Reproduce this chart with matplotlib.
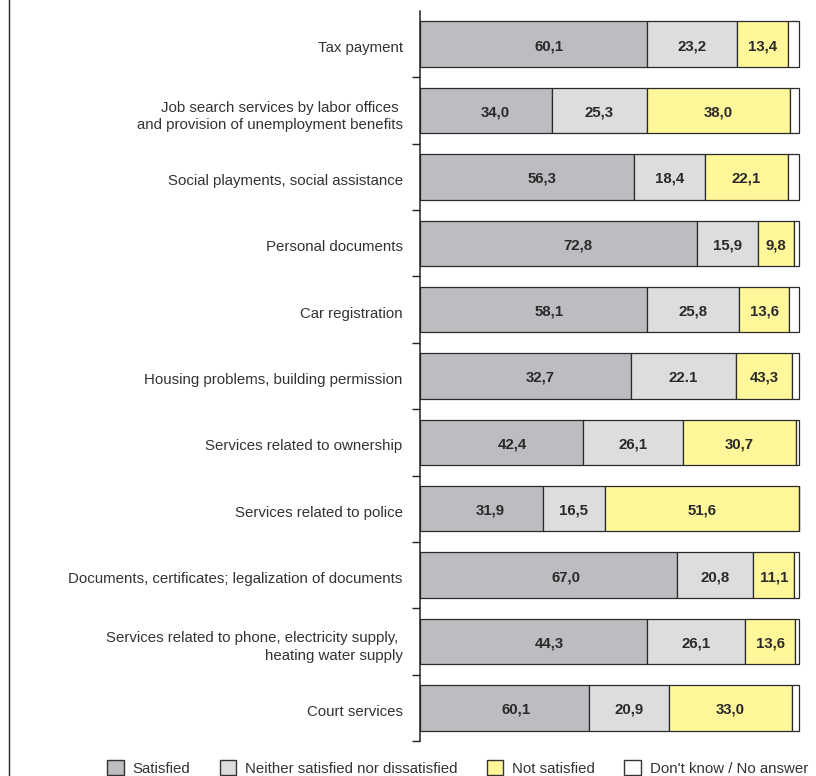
import matplotlib.pyplot as plt
from matplotlib.patches import Patch
from matplotlib.lines import Line2D
import matplotlib.transforms as mtransforms
import numpy as np

plt.rcParams['font.family'] = ['Liberation Sans', 'DejaVu Sans']

# Categories, top to bottom
services = [
    "Tax payment",
    "Job search services by labor offices \nand provision of unemployment benefits",
    "Social playments, social assistance",
    "Personal documents",
    "Car registration",
    "Housing problems, building permission",
    "Services related to ownership",
    "Services related to police",
    "Documents, certificates; legalization of documents",
    "Services related to phone, electricity supply, \nheating water supply",
    "Court services",
]

# Segment widths (%) as drawn in the picture
satisfied = [59.9, 34.7, 56.5, 73.1, 59.9, 55.5, 42.9, 32.3, 67.7, 59.8, 44.6]
neither = [23.6, 25.2, 18.6, 15.9, 24.3, 27.9, 26.4, 16.4, 20.2, 25.9, 21.0]
not_satisfied = [13.6, 37.6, 21.8, 9.7, 13.2, 14.7, 29.9, 51.1, 10.8, 13.2, 32.6]
dont_know = [2.9, 2.5, 3.1, 1.3, 2.6, 1.9, 0.8, 0.2, 1.3, 1.1, 1.8]

# Numbers printed on the bars
satisfied_txt = ["60,1", "34,0", "56,3", "72,8", "58,1", "32,7", "42,4", "31,9", "67,0", "44,3", "60,1"]
neither_txt = ["23,2", "25,3", "18,4", "15,9", "25,8", "22.1", "26,1", "16,5", "20,8", "26,1", "20,9"]
not_satisfied_txt = ["13,4", "38,0", "22,1", "9,8", "13,6", "43,3", "30,7", "51,6", "11,1", "13,6", "33,0"]

series = [satisfied, neither, not_satisfied, dont_know]
series_txt = [satisfied_txt, neither_txt, not_satisfied_txt, None]
legend_labels = ["Satisfied", "Neither satisfied nor dissatisfied", "Not satisfied", "Don't know / No answer"]
colors = ["#bcbdc0", "#dcdddf", "#fff799", "#ffffff"]
text_pos = [0.57, 0.5, 0.5, 0.5]

edge = "#2a2a2a"
txt_color = "#333333"

fig = plt.figure(figsize=(8.16, 7.76), dpi=100)
ax = fig.add_axes([420 / 816, 1 - 741 / 776, 379.3 / 816, 730 / 776])

y = np.arange(len(services))
left = np.zeros(len(services))
for vals, txts, col, frac in zip(series, series_txt, colors, text_pos):
    vals = np.array(vals)
    ax.barh(y, vals, left=left, height=0.686, color=col, edgecolor=edge,
            linewidth=0.9, clip_on=False)
    if txts is not None:
        for yi, l, v, t in zip(y, left, vals, txts):
            ax.text(l + v * frac, yi + 0.03, t, ha="center", va="center",
                    fontsize=10.8, fontweight="bold", color="#2a2a2a")
    left += vals

ax.set_xlim(0, 100)
ax.set_ylim(len(services) - 0.5, -0.5)

for s in ["top", "right", "bottom"]:
    ax.spines[s].set_visible(False)
ax.spines["left"].set_color("#222222")
ax.spines["left"].set_linewidth(1.1)
ax.set_xticks([])

# boundary ticks, category labels on minor ticks
ax.set_yticks(y + 0.5)
ax.set_yticklabels([])
ax.tick_params(axis="y", which="major", direction="out", length=5.5, width=1.0, color="#222222")
ax.set_yticks(y, minor=True)
ax.set_yticklabels(services, minor=True, fontsize=10.8, color=txt_color, ha="right",
                   linespacing=1.35)
ax.tick_params(axis="y", which="minor", length=0, pad=12.5)
shift = mtransforms.ScaledTranslation(0, -2.5 / 100, fig.dpi_scale_trans)
for lab in ax.get_yticklabels(minor=True):
    lab.set_transform(lab.get_transform() + shift)

# left frame line
fig.add_artist(Line2D([9 / 816, 9 / 816], [0, 1], color="#222222", linewidth=1.0))

handles = [Patch(facecolor=c, edgecolor="#333333", linewidth=1.0) for c in colors]
fig.legend(handles, legend_labels, loc="center left", bbox_to_anchor=(107 / 816, 1 - 768 / 776),
           ncol=4, frameon=False, fontsize=10.8, handlelength=1.1, handleheight=1.1,
           handletextpad=0.6, columnspacing=1.95, borderpad=0, borderaxespad=0,
           labelcolor=txt_color)

fig.savefig("out.png", dpi=100, facecolor="white")
